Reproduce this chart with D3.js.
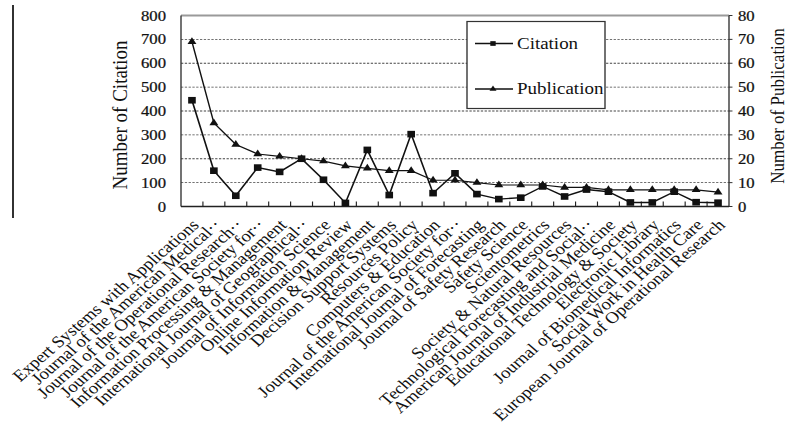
<!DOCTYPE html>
<html><head><meta charset="utf-8">
<script src="https://cdn.jsdelivr.net/npm/d3@7"></script>
<style>html,body{margin:0;padding:0;background:#fff;}svg{display:block;}</style>
</head><body>
<svg id="chart" width="788" height="434"></svg>
<script>
const categories = [
  "Expert Systems with Applications",
  "Journal of the American Medical··",
  "Journal of the Operational Research··",
  "Journal of the American Society for··",
  "Information Processing & Management",
  "International Journal of Geographical··",
  "Journal of Information Science",
  "Online Information Review",
  "Information & Management",
  "Decision Support Systems",
  "Resources Policy",
  "Computers & Education",
  "Journal of the American Society for··",
  "International Journal of Forecasting",
  "Journal of Safety Research",
  "Safety Science",
  "Scientometrics",
  "Society & Natural Resources",
  "Technological Forecasting and Social··",
  "American Journal of Industrial Medicine",
  "Educational Technology & Society",
  "Electronic Library",
  "Journal of Biomedical Informatics",
  "Social Work in Health Care",
  "European Journal of Operational Research"
];
const citation = [445,150,45,163,145,200,112,15,237,48,303,56,139,52,31,37,84,42,71,62,17,17,62,18,16];
const publication = [69,35,26,22,21,20,19,17,16,15,15,11,11,10,9,9,9,8,8,7,7,7,7,7,6];
const leftTicks = [0,100,200,300,400,500,600,700,800];
const rightTicks = [0,10,20,30,40,50,60,70,80];
const seriesNames = ["Citation","Publication"];

const SX = 1.15; // horizontal stretch of the original picture
const FONT = "'Liberation Serif','Times New Roman',serif";
const svg = d3.select("#chart");
const root = svg.append("g").attr("transform", `scale(${SX},1)`);

const x0 = 181/SX, x1 = 729/SX, yTop = 15.5, yBot = 206.5;
const x = d3.scaleBand().domain(d3.range(categories.length)).range([x0, x1]).paddingInner(0).paddingOuter(0);
const yL = d3.scaleLinear().domain([0,800]).range([yBot, yTop]);
const yR = d3.scaleLinear().domain([0,80]).range([yBot, yTop]);
const cx = i => x(i) + x.bandwidth()/2;

// left decoration line
root.append("line").attr("x1",13/SX).attr("x2",13/SX).attr("y1",5).attr("y2",218)
  .attr("stroke","#000").attr("stroke-width",1.4);

// gridlines
root.append("g").selectAll("line").data(leftTicks.filter(t=>t>0 && t<800)).join("line")
  .attr("x1",x0).attr("x2",x1).attr("y1",d=>yL(d)).attr("y2",d=>yL(d))
  .attr("stroke","#444").attr("stroke-width",0.9).attr("stroke-dasharray","2,1.3");

// frame
root.append("line").attr("x1",x0).attr("x2",x1).attr("y1",yTop).attr("y2",yTop)
  .attr("stroke","#9a9a9a").attr("stroke-width",1.8);
root.append("line").attr("x1",x0).attr("x2",x0).attr("y1",yTop).attr("y2",yBot)
  .attr("stroke","#333").attr("stroke-width",1.2);
root.append("line").attr("x1",x1).attr("x2",x1).attr("y1",yTop).attr("y2",yBot)
  .attr("stroke","#333").attr("stroke-width",1.2);
root.append("line").attr("x1",x0).attr("x2",x1).attr("y1",yBot).attr("y2",yBot)
  .attr("stroke","#222").attr("stroke-width",1.3);

// x ticks (inward)
root.append("g").selectAll("line").data(d3.range(1,categories.length)).join("line")
  .attr("x1",d=>x(d)).attr("x2",d=>x(d)).attr("y1",yBot).attr("y2",yBot-5)
  .attr("stroke","#222").attr("stroke-width",1);

// right ticks (outward)
root.append("g").selectAll("line").data(rightTicks).join("line")
  .attr("x1",x1).attr("x2",x1+3).attr("y1",d=>yR(d)).attr("y2",d=>yR(d))
  .attr("stroke","#333").attr("stroke-width",1);

// tick labels
root.append("g").selectAll("text").data(leftTicks).join("text")
  .attr("x",166/SX).attr("y",d=>yL(d)).attr("dy","0.35em").attr("text-anchor","end")
  .attr("font-family",FONT).attr("font-size",14.5).attr("fill","#111")
  .attr("stroke","#111").attr("stroke-width",0.25).text(d=>d);
root.append("g").selectAll("text").data(rightTicks).join("text")
  .attr("x",738/SX).attr("y",d=>yR(d)).attr("dy","0.35em").attr("text-anchor","start")
  .attr("font-family",FONT).attr("font-size",14.5).attr("fill","#111")
  .attr("stroke","#111").attr("stroke-width",0.25).text(d=>d);

// axis titles
root.append("text").attr("transform",`translate(${127/SX},115) rotate(-90)`)
  .attr("text-anchor","middle").attr("font-family",FONT).attr("font-size",19).attr("fill","#111")
  .text("Number of Citation");
root.append("text").attr("transform",`translate(${784/SX},106) rotate(-90)`)
  .attr("text-anchor","middle").attr("font-family",FONT).attr("font-size",17).attr("fill","#111")
  .text("Number of Publication");

// category labels
root.append("g").selectAll("text").data(categories).join("text")
  .attr("transform",(d,i)=>`translate(${cx(i)+7},226) rotate(-45)`)
  .attr("text-anchor","end").attr("font-family",FONT).attr("font-size",16.3).attr("fill","#111")
  .text(d=>d);

// lines
const lineC = d3.line().x((d,i)=>cx(i)).y(d=>yL(d));
const lineP = d3.line().x((d,i)=>cx(i)).y(d=>yR(d));
root.append("path").datum(citation).attr("d",lineC).attr("fill","none").attr("stroke","#111").attr("stroke-width",1.4);
root.append("path").datum(publication).attr("d",lineP).attr("fill","none").attr("stroke","#111").attr("stroke-width",1.2);

const sq = d3.symbol().type(d3.symbolSquare).size(44);
const tri = d3.symbol().type(d3.symbolTriangle).size(26);
root.append("g").selectAll("path").data(citation).join("path")
  .attr("transform",(d,i)=>`translate(${cx(i)},${yL(d)})`).attr("d",sq).attr("fill","#111");
root.append("g").selectAll("path").data(publication).join("path")
  .attr("transform",(d,i)=>`translate(${cx(i)},${yR(d)})`).attr("d",tri).attr("fill","#111");

// legend
const lx = 467/SX, ly = 21.5, lw = (605-467)/SX, lh = 87;
const lg = root.append("g");
lg.append("rect").attr("x",lx).attr("y",ly).attr("width",lw).attr("height",lh)
  .attr("fill","#fff").attr("stroke","#333").attr("stroke-width",1.2);
const rows = [43.5, 89];
seriesNames.forEach((name,k)=>{
  const ry = rows[k];
  lg.append("line").attr("x1",475/SX).attr("x2",513/SX).attr("y1",ry).attr("y2",ry)
    .attr("stroke","#111").attr("stroke-width",1.3);
  lg.append("path").attr("transform",`translate(${493/SX},${ry})`)
    .attr("d", (k===0? d3.symbol().type(d3.symbolSquare).size(22) : d3.symbol().type(d3.symbolTriangle).size(16))())
    .attr("fill","#111");
  lg.append("text").attr("x",517/SX).attr("y",ry).attr("dy","0.33em")
    .attr("font-family",FONT).attr("font-size",16.5).attr("fill","#111").text(name);
});
</script>
</body></html>
